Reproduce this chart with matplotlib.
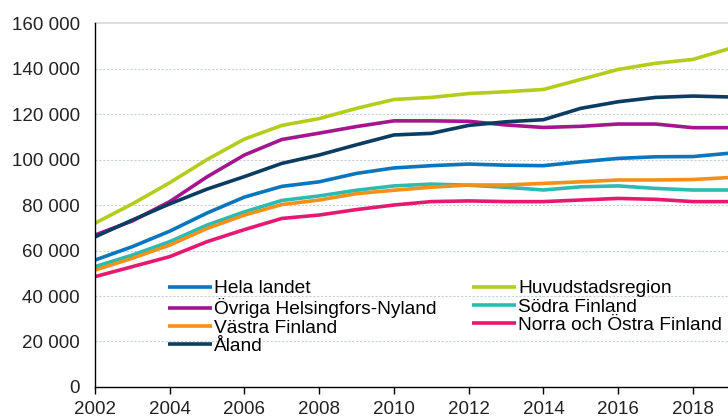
import matplotlib.pyplot as plt
from matplotlib.ticker import FuncFormatter

plt.rcParams['font.family'] = ['Liberation Sans', 'DejaVu Sans']

years = list(range(2002, 2020))

hela_landet = [55.8, 61.7, 68.5, 76.5, 83.5, 88.2, 90.2, 93.9, 96.3, 97.3, 98.0, 97.5, 97.3, 99.0, 100.5, 101.2, 101.3, 102.8]
huvudstadsregion = [72.0, 80.5, 89.8, 100.0, 109.0, 115.0, 118.0, 122.5, 126.4, 127.3, 129.0, 129.8, 130.8, 135.2, 139.6, 142.3, 144.0, 148.9]
ovriga_nyland = [66.8, 73.0, 81.5, 92.4, 102.0, 108.8, 111.6, 114.5, 117.0, 117.0, 116.8, 115.2, 114.1, 114.6, 115.6, 115.6, 114.0, 114.0]
sodra_finland = [52.9, 58.0, 63.9, 71.2, 77.0, 82.0, 84.0, 86.5, 88.4, 89.2, 88.7, 87.8, 86.6, 88.0, 88.4, 87.3, 86.6, 86.6]
vastra_finland = [51.4, 56.6, 62.4, 69.7, 75.6, 80.2, 82.2, 85.0, 86.5, 87.8, 88.8, 88.8, 89.5, 90.2, 91.0, 91.0, 91.2, 92.1]
norra_ostra = [48.5, 52.9, 57.3, 63.9, 69.2, 74.1, 75.6, 78.0, 80.0, 81.5, 81.8, 81.5, 81.5, 82.2, 82.9, 82.5, 81.5, 81.5]
aland = [66.0, 73.4, 80.5, 87.0, 92.5, 98.3, 102.0, 106.5, 110.8, 111.5, 115.0, 116.6, 117.5, 122.5, 125.4, 127.3, 127.9, 127.5]

# legend order (two columns, filled row by row)
serier = [
    ('Hela landet', hela_landet, '#0a76bd'),
    ('Huvudstadsregion', huvudstadsregion, '#b4cd1d'),
    ('Övriga Helsingfors-Nyland', ovriga_nyland, '#a3168d'),
    ('Södra Finland', sodra_finland, '#2bbbb0'),
    ('Västra Finland', vastra_finland, '#f39019'),
    ('Norra och Östra Finland', norra_ostra, '#e5196f'),
    ('Åland', aland, '#0c3c60'),
]

fig = plt.figure(figsize=(7.28, 4.19), dpi=100)
ax = fig.add_axes([0.1305, 0.0764, 0.8695, 0.8686])

for namn, varden, farg in serier:
    ax.plot(years, [v * 1000 for v in varden], color=farg, lw=2.6, label=namn,
            solid_capstyle='butt')

ax.set_xlim(2002, 2018.94)
ax.set_ylim(0, 160000)
ax.set_xticks(range(2002, 2019, 2))
ax.set_yticks(range(0, 160001, 20000))
ax.yaxis.set_major_formatter(FuncFormatter(lambda v, p: f'{int(v):,}'.replace(',', ' ')))

for y in range(20000, 160000, 20000):
    ax.axhline(y, color='#c8d0d4', lw=0.8, ls=(0, (2, 1.5)), zorder=0)
ax.axhline(160000, color='#d9d9d9', lw=1.2, zorder=0, clip_on=False)

for s in ['top', 'right']:
    ax.spines[s].set_visible(False)
ax.spines['left'].set_linewidth(1.0)
ax.spines['bottom'].set_linewidth(1.0)
ax.tick_params(axis='y', length=0, pad=11, labelsize=13.5, labelcolor='#222222')
ax.tick_params(axis='x', length=5, width=1, direction='out', pad=5, labelsize=13.5,
               labelcolor='#222222', color='black')

# reorder handles so that ncol=2 fills row by row
h, l = ax.get_legend_handles_labels()
ordning = [0, 2, 4, 6, 1, 3, 5]
ax.legend([h[i] for i in ordning], [l[i] for i in ordning], ncol=2,
          loc='upper left', bbox_to_anchor=(0.116, 0.294), frameon=False,
          fontsize=13.8, handlelength=2.25, handletextpad=0.15,
          labelspacing=0.05, columnspacing=1.85, borderpad=0, borderaxespad=0)

fig.savefig('out.png', dpi=100)
